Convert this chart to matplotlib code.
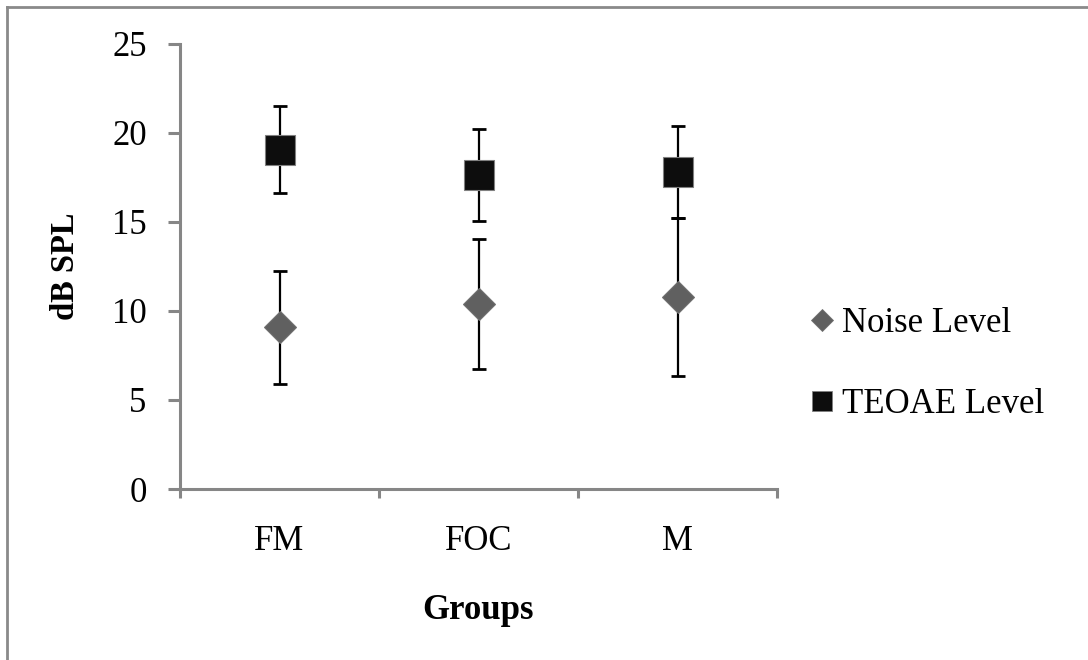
import matplotlib
matplotlib.use("Agg")
import matplotlib.pyplot as plt
from matplotlib.lines import Line2D

groups = ["FM", "FOC", "M"]
noise_mean = [9.08, 10.39, 10.78]
noise_err = [3.18, 3.65, 4.43]
teoae_mean = [19.05, 17.6, 17.8]
teoae_err = [2.42, 2.58, 2.57]
series_labels = ["Noise Level", "TEOAE Level"]
yticks = [0, 5, 10, 15, 20, 25]

plt.rcParams['font.family'] = ['Liberation Serif', 'DejaVu Serif']

fig = plt.figure(figsize=(10.88, 6.6), dpi=100)
ax = fig.add_axes([180/1088, 1-489/660, (777-180)/1088, (489-43.5)/660])

xpos = [i + 0.5 for i in range(len(groups))]
spine_c = '#868686'

ax.errorbar(xpos, noise_mean, yerr=noise_err, fmt='none', ecolor='black',
            elinewidth=1.6, capsize=4.7, capthick=2, zorder=2)
ax.errorbar(xpos, teoae_mean, yerr=teoae_err, fmt='none', ecolor='black',
            elinewidth=1.6, capsize=4.7, capthick=2, zorder=2)
ax.plot(xpos, noise_mean, linestyle='none', marker='D', ms=15.8,
        mfc='#606060', mec='#707070', mew=0.8, zorder=3)
ax.plot(xpos, teoae_mean, linestyle='none', marker='s', ms=21.6,
        mfc='#0d0d0d', mec='#808080', mew=0.8, zorder=3)

ax.set_xlim(0, 3)
ax.set_ylim(0, 25)
ax.set_yticks(yticks)
ax.set_yticklabels([str(v) for v in yticks])
ax.set_xticks([0, 1, 2, 3])
ax.set_xticklabels([])
ax.set_xticks(xpos, minor=True)
ax.set_xticklabels(groups, minor=True)

for s in ['top', 'right']:
    ax.spines[s].set_visible(False)
for s in ['left', 'bottom']:
    ax.spines[s].set_color(spine_c)
    ax.spines[s].set_linewidth(2.2)
    ax.spines[s].set_capstyle('projecting')

ax.tick_params(axis='y', which='major', direction='out', length=9, width=2.2,
               color=spine_c, labelsize=25, pad=15)
ax.tick_params(axis='x', which='major', direction='out', length=6.5, width=2.2,
               color=spine_c)
ax.tick_params(axis='x', which='minor', length=0, labelsize=25, pad=26)

ax.set_ylabel("dB SPL", fontsize=23.5, fontweight='bold', labelpad=22)
ax.set_xlabel("Groups", fontsize=25, fontweight='bold', labelpad=26)

handles = [
    Line2D([], [], linestyle='none', marker='D', ms=11.2, mfc='#606060', mec='#707070', mew=0.6),
    Line2D([], [], linestyle='none', marker='s', ms=15.1, mfc='#0d0d0d', mec='#808080', mew=0.6),
]
fig.legend(handles, series_labels, loc='center left',
           bbox_to_anchor=(812/1088, 1-364/660), frameon=False, fontsize=25,
           handlelength=0.6, handletextpad=0.25, labelspacing=1.4,
           borderpad=0, borderaxespad=0)

# outer border (top and left only)
fig.add_artist(Line2D([7/1088, 1], [1-7/660, 1-7/660], color='#8a8a8a', lw=2,
                      transform=fig.transFigure))
fig.add_artist(Line2D([7/1088, 7/1088], [0, 1-7/660], color='#8a8a8a', lw=2,
                      transform=fig.transFigure))

fig.savefig("out.png", dpi=100)
